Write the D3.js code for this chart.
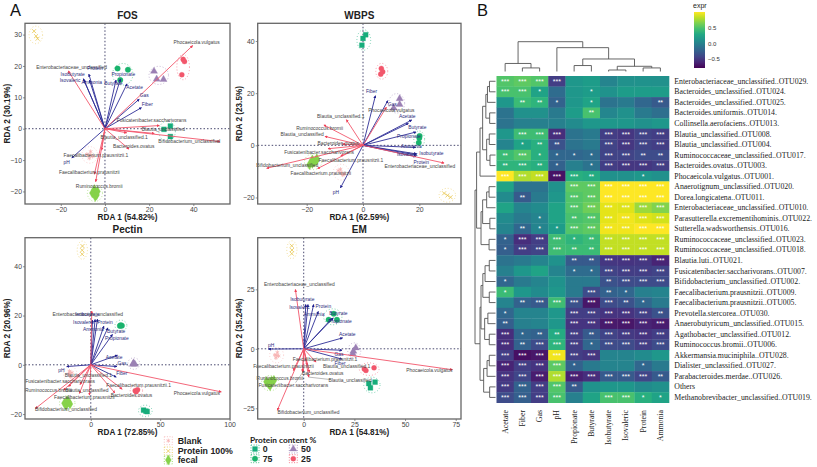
<!DOCTYPE html>
<html><head><meta charset="utf-8">
<script src="https://cdn.jsdelivr.net/npm/d3@7"></script>
<style>html,body{margin:0;padding:0;background:#fff}svg{display:block}</style>
</head><body><svg id="c" width="817" height="467"></svg>
<script>
// ---------- RDA data: [name, x, y, labelX, labelY] in axis units
const fosEnv=[["Isobutyrate",-9.8,15.9,-14.6,17.5],["Isovaleric",-9.5,15.5,-15.8,15.5],["Ammonia",-7,15.5,-6,14.9],["Protein",-7.3,17.4,-4.5,19.3],["Acetate",10,14.3,13.4,13.3],["Propionate",7,15.8,8.3,17.2],["Butyrate",5,15.5,3.8,14.4],["Gas",15.5,9.4,17.8,10.6],["Fiber",16.5,6.7,19.2,7.9],["pH",-15,-9.3,-17.3,-10.8]];
const fosSpecies=[["Phocaeicola.vulgatus",39.7,26.5,41.5,27.7],["Enterobacteriaceae_unclassified",-16.6,18.4,-15.1,19.7],["Fusicatenibacter.saccharivorans",22.3,-1.5,21.1,2.7],["Blautia_unclassified",24.6,1,26.4,-0.2],["Bifidobacterium_unclassified",52,-4.1,38.2,-4],["Blautia_unclassified.1",9.8,-1.3,8.7,-2.8],["Bacteroides.ovatus",10.9,-6.5,13,-5.7],["Faecalibacterium.prausnitzii.1",-1.5,-6.8,-4.1,-8.6],["Faecalibacterium.prausnitzii",-4.8,-14.5,-7.1,-14],["Ruminococcus.bromii",-4.2,-16.9,-2.6,-18.3]];
const fosPoints={blank:[[-6.8,-8.4],[-7.1,-9.4],[-6.5,-7.3],[-8.2,-8.2],[-5.6,-8.8]],p100:[[-32.1,31.1],[-31.2,29.5],[-30.5,28.7]],fecal:[[-4.5,-20.4],[-3.8,-21.1],[-4.8,-19.5],[-5.7,-20.5],[-3.4,-20],[-4.4,-21.6]],p0:[[29.6,0.85],[29.6,-2.5],[26.7,-0.2]],p75:[[5.7,19.2],[10.4,18.8],[6.9,15.5]],p50:[[22.2,18.3],[26.5,15.7],[23.4,15.8]],p25:[[35.4,22.1],[36,21.4],[34.8,17.2]]};

const wbpsEnv=[["Fiber",4.4,19,3,20.7],["Gas",8.8,17.1,10.4,15.8],["Acetate",17.3,9.7,15.7,11.1],["Butyrate",16.1,8.4,19.3,7],["Propionate",18.8,5.1,16.3,3.6],["Ammonia",18.7,-0.8,17.2,-0.5],["Isobutyrate",19,-3.3,24.3,-2.9],["Isovaleric",19,-3.7,15.7,-3.3],["Protein",18.8,-4.3,20.7,-6.4],["pH",-8,-16.3,-9.6,-17.9]];
const wbpsSpecies=[["Phocaeicola.vulgatus",8.3,14.6,10.1,13.3],["Enterobacteriaceae_unclassified",28.8,-6.8,20.2,-8],["Blautia_unclassified.1",-5.9,9.8,-7.9,11.2],["Ruminococcus.bromii",-13.9,7.8,-15.4,6.4],["Blautia_unclassified",-13.5,3.4,-21.6,4.1],["Bacteroides.ovatus",-7.3,0.5,-8.8,0.6],["Fusicatenibacter.saccharivorans",-12.4,-1.3,-15.6,-2.8],["Faecalibacterium.prausnitzii.1",-7.9,-4.1,-4.3,-5.7],["Bifidobacterium_unclassified",-34.2,-8.8,-26.9,-7.7],["Faecalibacterium.prausnitzii",-16.1,-8.9,-15,-10.6]];
const wbpsPoints={blank:[[-8.8,-9.7],[-7.7,-10.5],[-6.7,-11],[-8,-9.2],[-7.2,-11.4]],p100:[[28.8,-18.4],[30,-19.2],[31.1,-19.9]],fecal:[[-16.6,-5.9],[-18,-6.9],[-17.3,-6.4],[-19,-7.4],[-16.4,-5.2],[-18,-5.6]],p0:[[-0.4,38.4],[0,41],[0.95,42.4]],p75:[[20.1,3.6],[20,2.8],[19.8,1]],p50:[[13,17.9],[13,15.7],[10.9,14.3]],p25:[[6.5,29.5],[7,28.2],[6.3,27.3]]};

const pectinEnv=[["Isovaleric",1.2,18.1,-5.3,17.3],["Isobutyrate",3.1,18.4,-2.4,20.4],["Protein",4.8,18.5,10.3,17.4],["Ammonia",9.4,15.7,1.9,14.5],["Butyrate",12.3,15,18.3,13.6],["Propionate",15.6,12.3,18.8,10.7],["Acetate",19.2,3.9,16.8,3.1],["Gas",18.8,-0.7,22.4,0.7],["Fiber",18.3,-5,22.4,-3.6],["pH",-17.3,-0.7,-21.2,-2.3]];
const pectinSpecies=[["Enterobacteriaceae_unclassified",0.7,21.8,-2.2,20.4],["Phocaeicola.vulgatus",94,-11,76.4,-11.4],["Bifidobacterium_unclassified",-40,-17.8,-17.8,-18.1],["Bacteroides.ovatus",17.3,-11.4,29.3,-12.2],["Faecalibacterium.prausnitzii.1",22.6,-9.9,34.4,-8.5],["Faecalibacterium.prausnitzii",-1,-12.3,-4.6,-13.2],["Fusicatenibacter.saccharivorans",-16,-8.8,-22.1,-6.6],["Ruminococcus.bromii",-19.7,-10.3,-30.5,-10.3],["Blautia_unclassified",-8.2,-11.6,-2.9,-10.5],["Blautia_unclassified.1",-7.7,-8,-1.7,-4.1]];
const pectinPoints={blank:[[-15.4,-2.6],[-14.9,-3.5],[-14.4,-4.9],[-16,-3.8],[-13.6,-3.2]],p100:[[-6,48.2],[-6.2,46.5],[-6.2,44.9]],fecal:[[-17.3,-15.7],[-16.1,-15],[-17.8,-16.4],[-19,-15.6],[-15,-15.9],[-17,-14.6]],p0:[[38,-18.4],[39.7,-18.8],[40.6,-19]],p75:[[21.6,16.1],[22.4,15.9],[21,15.8]],p50:[[30.8,0.8],[31.7,0.3],[30.3,0.2]],p25:[[32,-10.5],[33.7,-10.1],[32.7,-10.9]]};

const emEnv=[["Isobutyrate",1,18.6,-0.7,20.9],["Isovaleric",2.1,18.6,-2.1,17.4],["Protein",4.9,18.6,9.7,17.9],["Ammonia",7.2,15.7,5.1,14.4],["Butyrate",13.8,12.7,17.1,15],["Propionate",14.6,13,17.9,11.5],["Acetate",19.2,4.6,21.5,6.2],["Gas",18.9,-0.6,17.4,-2.1],["Fiber",18.8,-4.3,17.9,-5.9],["pH",-17.4,-0.1,-16.1,1.3]];
const emSpecies=[["Enterobacteriaceae_unclassified",-4.1,24.9,-2.1,27],["Phocaeicola.vulgatus",73.4,-8.8,62,-9],["Bifidobacterium_unclassified",-13,-25.8,2.3,-26.5],["Faecalibacterium.prausnitzii.1",6.1,-5.6,10.5,-4.6],["Faecalibacterium.prausnitzii",-5.1,-9.1,-10,-7.4],["Blautia_unclassified.1",1.8,-6.9,21.2,-7.4],["Bacteroides.ovatus",2.8,-9.8,9.4,-10.4],["Blautia_unclassified",2.5,-11.9,22.9,-13.2],["Ruminococcus.bromii",-0.5,-9.9,-11.7,-12.3],["Fusicatenibacter.saccharivorans",-0.5,-9.6,-5.1,-15.3]];
const emPoints={blank:[[-13.3,-2.7],[-13.7,-3.8],[-13,-1.5],[-14.3,-2.6],[-12.4,-3]],p100:[[-5.9,43.3],[-5.8,41.5],[-5.9,40]],fecal:[[-16.6,-13.9],[-15.8,-13.6],[-17.4,-14.6],[-18.4,-13.8],[-14.7,-13.3],[-16.6,-15.5]],p0:[[32.1,-14.6],[32.9,-16.4],[35.2,-14]],p75:[[12.3,12.2],[14.8,14.7],[16.4,12.2]],p50:[[25.7,0.4],[24.5,-1],[24.2,-2]],p25:[[29.9,-8.5],[34.7,-8],[30.7,-9.1]]};
const emLeaders=[[2.5,-11.9,13,-12.9],[-0.5,-9.9,-4,-14.2]];

// ---------- Heatmap data
const heatColumns=["Acetate","Fiber","Gas","pH","Propionate","Butyrate","Isobutyrate","Isovaleric","Protein","Ammonia"];
const heatRows=["Enterobacteriaceae_unclassified..OTU029.","Bacteroides_unclassified..OTU024.","Bacteroides_unclassified..OTU025.","Bacteroides.uniformis..OTU014.","Collinsella.aerofaciens..OTU013.","Blautia_unclassified..OTU008.","Blautia_unclassified..OTU004.","Ruminococcaceae_unclassified..OTU017.","Bacteroides.ovatus..OTU003.","Phocaeicola.vulgatus..OTU001.","Anaerotignum_unclassified..OTU020.","Dorea.longicatena..OTU011.","Enterobacteriaceae_unclassified..OTU010.","Parasutterella.excrementihominis..OTU022.","Sutterella.wadsworthensis..OTU016.","Ruminococcaceae_unclassified..OTU023.","Ruminococcaceae_unclassified..OTU018.","Blautia.luti..OTU021.","Fusicatenibacter.saccharivorans..OTU007.","Bifidobacterium_unclassified..OTU002.","Faecalibacterium.prausnitzii..OTU009.","Faecalibacterium.prausnitzii..OTU005.","Prevotella.stercorea..OTU030.","Anaerobutyricum_unclassified..OTU015.","Agathobacter_unclassified..OTU012.","Ruminococcus.bromii..OTU006.","Akkermansia.muciniphila..OTU028.","Dialister_unclassified..OTU027.","Parabacteroides.merdae..OTU026.","Others","Methanobrevibacter_unclassified..OTU019."];
// position along the viridis ramp for each cell (colour-bar fraction)
const heatValues=[
[.70,.72,.70,.15,.50,.52,.42,.47,.48,.47],
[.68,.68,.55,.32,.50,.52,.48,.52,.52,.52],
[.50,.65,.62,.28,.50,.55,.35,.38,.30,.25],
[.35,.47,.47,.38,.52,.68,.43,.47,.38,.33],
[.35,.40,.40,.40,.45,.50,.50,.50,.47,.50],
[.50,.66,.66,.10,.35,.38,.15,.13,.17,.15],
[.42,.55,.60,.22,.35,.38,.17,.13,.17,.15],
[.65,.70,.60,.30,.30,.32,.17,.17,.20,.20],
[.62,.62,.60,.28,.40,.35,.15,.13,.13,.15],
[.98,.85,.88,.02,.60,.58,.47,.47,.50,.47],
[.55,.35,.35,.48,.72,.72,.97,.98,.98,.98],
[.45,.25,.38,.50,.70,.72,.97,.97,.98,.98],
[.55,.42,.45,.55,.70,.75,.93,.92,.82,.78],
[.45,.38,.42,.55,.68,.70,.93,.95,.92,.90],
[.42,.30,.42,.52,.70,.72,.95,.95,.97,.97],
[.28,.10,.15,.66,.62,.65,.88,.88,.88,.88],
[.27,.15,.17,.66,.65,.65,.88,.88,.88,.88],
[.35,.38,.42,.48,.25,.25,.13,.12,.13,.07],
[.40,.50,.55,.42,.32,.32,.17,.15,.15,.17],
[.30,.38,.42,.48,.38,.38,.22,.20,.20,.20],
[.65,.50,.45,.50,.38,.20,.28,.30,.40,.42],
[.42,.28,.25,.66,.22,.03,.20,.22,.30,.38],
[.30,.42,.42,.50,.15,.15,.12,.12,.16,.22],
[.27,.40,.42,.50,.12,.12,.04,.03,.07,.05],
[.10,.30,.28,.58,.15,.25,.17,.14,.12,.15],
[.10,.28,.20,.62,.15,.30,.20,.20,.15,.20],
[.15,.01,.03,.95,.15,.13,.42,.42,.45,.50],
[.07,.15,.12,.72,.28,.38,.42,.42,.30,.38],
[.12,.18,.05,.85,.06,.10,.25,.25,.18,.25],
[.14,.28,.15,.70,.25,.48,.50,.50,.45,.47],
[.20,.27,.15,.68,.40,.55,.68,.68,.60,.55]];
const heatStars=[
[3,3,3,3,0,0,0,0,0,0],[3,3,1,0,0,1,0,0,0,0],[0,2,2,1,0,1,0,0,0,2],[0,0,0,0,0,2,0,0,0,0],[0,0,0,0,0,0,0,0,0,0],
[0,3,3,3,0,0,3,3,3,3],[0,1,2,2,0,0,3,3,3,3],[2,3,1,1,1,1,3,3,2,2],[2,3,2,1,0,1,3,3,3,3],[3,3,3,3,3,2,0,0,1,0],
[0,0,0,0,3,3,3,3,3,3],[0,2,0,0,3,3,3,3,3,3],[0,0,0,0,3,3,3,3,3,3],[0,0,1,0,2,3,3,3,3,3],[0,2,1,1,3,3,3,3,3,3],
[1,3,3,3,1,2,3,3,3,3],[1,3,3,3,2,2,3,3,3,3],[0,0,0,0,2,2,3,3,3,3],[0,0,0,0,1,1,3,3,3,3],[1,0,0,0,0,0,2,3,3,3],
[1,0,0,0,0,3,2,1,0,0],[0,2,3,3,3,3,3,2,1,0],[1,0,0,0,3,3,3,3,3,2],[2,0,0,0,3,3,3,3,3,3],[3,1,2,2,3,2,3,3,3,3],
[3,2,3,3,3,1,3,3,3,3],[3,3,3,3,3,3,0,0,0,0],[3,3,3,3,1,0,0,0,1,0],[3,3,3,3,3,3,3,3,3,2],[3,3,3,3,2,0,0,0,0,0],[3,3,3,3,0,0,3,3,1,1]];
// Dendrograms: {h: merge height, c: children} ; leaves are index numbers
const colTree={h:10,c:[{h:2.7,c:[0,{h:1.2,c:[1,2]}]},{h:8,c:[3,{h:4.2,c:[{h:2,c:[4,5]},{h:1.75,c:[{h:.5,c:[6,7]},{h:1.2,c:[8,9]}]}]}]}]};
const rowTree={h:10.2,c:[
 {h:9.4,c:[
  {h:7.7,c:[
   {h:6.4,c:[
    {h:4.8,c:[{h:4,c:[{h:3,c:[0,1]},2]},{h:2.9,c:[3,4]}]},
    {h:4.4,c:[{h:3.1,c:[5,6]},{h:2.75,c:[7,8]}]}]},
   9]},
  {h:7.2,c:[
   {h:6.4,c:[{h:4.4,c:[{h:3.2,c:[10,11]},12]},{h:2.8,c:[13,14]}]},
   {h:3.2,c:[15,16]}]}]},
 {h:7.7,c:[
  {h:7.2,c:[
   {h:6.3,c:[{h:5.2,c:[{h:3.1,c:[17,18]},19]},{h:3.1,c:[20,21]}]},
   {h:5.4,c:[{h:3.8,c:[22,23]},{h:3.1,c:[24,25]}]}]},
  {h:5.9,c:[{h:4.2,c:[{h:3.1,c:[26,27]},28]},{h:2.9,c:[29,30]}]}]}]};
const exprTicks=[-0.5,0,0.5];

// ---------- Styles
const groups={
 blank:{t:"Blank",col:"#f8b0b0",sym:d3.symbolAsterisk||d3.symbolCross,s:12},
 p100:{t:"Protein 100%",col:"#e9c64f",sym:d3.symbolTimes,s:12},
 fecal:{t:"fecal",col:"#86d24a",sym:d3.symbolDiamond,s:30},
 p0:{t:"0",col:"#16ad7b",sym:d3.symbolSquare,s:24},
 p75:{t:"75",col:"#19b36c",sym:d3.symbolCircle,s:24},
 p50:{t:"50",col:"#9b80b4",sym:d3.symbolTriangle,s:22},
 p25:{t:"25",col:"#f2566b",sym:d3.symbolCircle,s:20}};
const sans="'Liberation Sans',Arial,sans-serif", serif="'Liberation Serif','Times New Roman',serif";
const svg=d3.select("#c");
const defs=svg.append("defs");
[["headR","#ee3f55"],["headB","#1f1f8f"]].forEach(([id,c])=>{
 defs.append("marker").attr("id",id).attr("viewBox","0 0 6 6").attr("refX",5).attr("refY",3)
  .attr("markerWidth",3).attr("markerHeight",3).attr("markerUnits","userSpaceOnUse").attr("orient","auto")
  .append("path").attr("d","M0,0L6,3L0,6Z").attr("fill",c);});

function panel(title,xl,yl,box,xDom,yDom,xTicks,yTicks,env,species,points,leaders){
 const x=d3.scaleLinear().domain(xDom).range([box.l,box.r]);
 const y=d3.scaleLinear().domain(yDom).range([box.b,box.t]);
 const g=svg.append("g");
 const ax=g.append("g").attr("transform",`translate(0,${box.b})`).call(d3.axisBottom(x).tickValues(xTicks).tickSize(2).tickPadding(1.5));
 const ay=g.append("g").attr("transform",`translate(${box.l},0)`).call(d3.axisLeft(y).tickValues(yTicks).tickSize(2).tickPadding(1));
 [ax,ay].forEach(a=>{a.select(".domain").remove();a.selectAll("text").attr("font-family",sans).attr("font-size",6.9).attr("fill","#444");a.selectAll("line").attr("stroke","#444").attr("stroke-width",.6);});
 g.append("line").attr("x1",box.l).attr("x2",box.r).attr("y1",y(0)).attr("y2",y(0)).attr("stroke","#33335f").attr("stroke-width",.9).attr("stroke-dasharray","1.5 2");
 g.append("line").attr("x1",x(0)).attr("x2",x(0)).attr("y1",box.t).attr("y2",box.b).attr("stroke","#33335f").attr("stroke-width",.9).attr("stroke-dasharray","1.5 2");
 // point groups with dotted halo
 Object.entries(points).forEach(([k,pts])=>{
  const st=groups[k];
  const ex=d3.extent(pts,p=>x(p[0])),ey=d3.extent(pts,p=>y(p[1]));
  g.append("ellipse").attr("cx",(ex[0]+ex[1])/2).attr("cy",(ey[0]+ey[1])/2).attr("rx",(ex[1]-ex[0])/2+5).attr("ry",(ey[1]-ey[0])/2+5)
   .attr("fill","none").attr("stroke",st.col).attr("stroke-width",.8).attr("stroke-dasharray","1 2").attr("opacity",.7);
  g.selectAll(null).data(pts).join("path").attr("transform",p=>`translate(${x(p[0])},${y(p[1])})`)
   .attr("d",d3.symbol().type(st.sym).size(st.s))
   .attr("fill",(k=="blank"||k=="p100")?"none":st.col).attr("stroke",st.col).attr("stroke-width",(k=="blank"||k=="p100")?.8:.3);
 });
 const arrows=(data,col,head)=>g.selectAll(null).data(data).join("line")
  .attr("x1",x(0)).attr("y1",y(0)).attr("x2",d=>x(d[1])).attr("y2",d=>y(d[2]))
  .attr("stroke",col).attr("stroke-width",.9).attr("marker-end",`url(#${head})`);
 arrows(env,"#2e2e96","headB");arrows(species,"#f2566b","headR");
 if(leaders) g.selectAll(null).data(leaders).join("line").attr("x1",d=>x(d[0])).attr("y1",d=>y(d[1])).attr("x2",d=>x(d[2])).attr("y2",d=>y(d[3])).attr("stroke","#777").attr("stroke-width",.5);
 const labels=(data,col)=>g.selectAll(null).data(data).join("text")
  .attr("x",d=>x(d[3])).attr("y",d=>y(d[4])).attr("dy","0.35em").attr("text-anchor","middle")
  .attr("font-family",sans).attr("font-size",4.9).attr("fill",col).text(d=>d[0]);
 labels(species,"#444");labels(env,"#2a2a7c");
 g.append("rect").attr("x",box.l).attr("y",box.t).attr("width",box.r-box.l).attr("height",box.b-box.t).attr("fill","none").attr("stroke","#666").attr("stroke-width",1.3);
 g.append("text").attr("x",(box.l+box.r)/2).attr("y",box.t-4.5).attr("text-anchor","middle").attr("font-family",sans).attr("font-weight","bold").attr("font-size",10).attr("fill","#222").text(title);
 g.append("text").attr("x",(box.l+box.r)/2).attr("y",box.b+16).attr("text-anchor","middle").attr("font-family",sans).attr("font-weight","bold").attr("font-size",8.2).attr("fill","#222").text(xl);
 g.append("text").attr("transform",`translate(${box.l-15.5},${(box.t+box.b)/2}) rotate(-90)`).attr("text-anchor","middle").attr("font-family",sans).attr("font-weight","bold").attr("font-size",8.2).attr("fill","#222").text(yl);
}
// panel boxes and axis scales derived from tick positions
panel("FOS","RDA 1 (54.82%)","RDA 2 (30.19%)",{l:25,r:230,t:23.3,b:204},[-36.2,56.6],[-24,33.6],[-20,0,20,40],[-20,-10,0,10,20,30],fosEnv,fosSpecies,fosPoints);
panel("WBPS","RDA 1 (62.59%)","RDA 2 (23.5%)",{l:257.7,r:461,t:23.3,b:204},[-37.4,34.8],[-22.5,46.8],[-20,0,20],[-20,0,20,40],wbpsEnv,wbpsSpecies,wbpsPoints);
panel("Pectin","RDA 1 (72.85%)","RDA 2 (20.96%)",{l:25,r:230,t:237.7,b:419},[-47.4,100.3],[-22,51.6],[0,50,100],[-20,0,20,40],pectinEnv,pectinSpecies,pectinPoints);
panel("EM","RDA 1 (54.81%)","RDA 2 (35.24%)",{l:257.7,r:461,t:237.7,b:419},[-22.7,77.6],[-29.5,46.7],[0,25,50,75],[-25,0,25],emEnv,emSpecies,emPoints,emLeaders);

// panel letters
[["A",10,15.5],["B",477,15.5]].forEach(([t,x,y])=>svg.append("text").attr("x",x).attr("y",y).attr("font-family",sans).attr("font-size",16.5).attr("fill","#111").text(t));

// legend
function legendKey(k,cx,cy){
 const st=groups[k];
 svg.append("rect").attr("x",cx-4).attr("y",cy-4).attr("width",8).attr("height",8).attr("fill","none").attr("stroke",st.col).attr("stroke-width",.8).attr("stroke-dasharray","1 1.6");
 svg.append("path").attr("transform",`translate(${cx},${cy})`).attr("d",d3.symbol().type(st.sym).size(st.s))
  .attr("fill",(k=="blank"||k=="p100")?"none":st.col).attr("stroke",st.col).attr("stroke-width",(k=="blank"||k=="p100")?.8:.3);
}
const legendText=(t,x,y)=>svg.append("text").attr("x",x).attr("y",y).attr("dy","0.35em").attr("font-family",sans).attr("font-weight","bold").attr("font-size",8.8).attr("fill","#222").text(t);
[["blank",440.7],["p100",451],["fecal",460]].forEach(([k,y])=>{legendKey(k,168.3,y);legendText(groups[k].t,177.7,y);});
svg.append("text").attr("x",250).attr("y",440.3).attr("dy","0.35em").attr("font-family","Lato,"+sans).attr("font-weight","bold").attr("font-size",8.3).attr("fill","#222").text("Protein content %");
[["p0",255,449],["p75",255,458.7],["p50",293.3,449],["p25",293.3,458.7]].forEach(([k,x,y])=>{legendKey(k,x,y);legendText(groups[k].t,x+7.7,y);});

// ---------- heatmap
const hx=d3.scaleBand().domain(d3.range(heatColumns.length)).range([496.5,669]);
const hy=d3.scaleBand().domain(d3.range(heatRows.length)).range([76,402.7]);
const color=d3.scaleSequential(d3.interpolateViridis).domain([-0.03,0.97]);
const cells=heatValues.flatMap((r,i)=>r.map((v,j)=>({i,j,v,s:heatStars[i][j]})));
svg.append("g").selectAll("rect").data(cells).join("rect").attr("x",d=>hx(d.j)).attr("y",d=>hy(d.i)).attr("width",hx.bandwidth()+.3).attr("height",hy.bandwidth()+.3).attr("fill",d=>color(d.v));
svg.append("g").selectAll("text").data(cells.filter(d=>d.s>0)).join("text").attr("x",d=>hx(d.j)+hx.bandwidth()/2).attr("y",d=>hy(d.i)+hy.bandwidth()/2+2.6)
 .attr("text-anchor","middle").attr("font-family",sans).attr("font-size",7).attr("fill","#fff").text(d=>"*".repeat(d.s));
svg.append("g").selectAll("text").data(heatRows).join("text").attr("x",674.3).attr("y",(d,i)=>hy(i)+hy.bandwidth()/2).attr("dy","0.33em")
 .attr("font-family",serif).attr("font-size",7.8).attr("fill","#222").text(d=>d);
svg.append("g").selectAll("text").data(heatColumns).join("text").attr("transform",(d,j)=>`translate(${hx(j)+hx.bandwidth()/2},410) rotate(-90)`).attr("dy","0.33em").attr("text-anchor","end")
 .attr("font-family",serif).attr("font-size",7.8).attr("fill","#222").text(d=>d);

// dendrograms
function dendro(tree,leafPos,hPos,horizontal){
 const root=d3.hierarchy(tree,d=>typeof d==="number"?null:d.c);
 root.eachAfter(n=>{
  n.pos=n.children?d3.mean([n.children[0].pos,n.children[n.children.length-1].pos]):leafPos(n.data);
  n.hp=hPos(n.children?n.data.h:0);
 });
 const P=svg.append("g");
 root.each(n=>{ if(!n.children)return;
  const a=n.children[0],b=n.children[1];
  const d=horizontal?`M${a.hp},${a.pos}H${n.hp}V${b.pos}H${b.hp}`:`M${a.pos},${a.hp}V${n.hp}H${b.pos}V${b.hp}`;
  P.append("path").attr("d",d).attr("fill","none").attr("stroke","#555").attr("stroke-width",.9);
 });
}
dendro(colTree,j=>hx(j)+hx.bandwidth()/2,d3.scaleLinear().domain([0,10]).range([71.5,41.7]),false);
dendro(rowTree,i=>hy(i)+hy.bandwidth()/2,d3.scaleLinear().domain([0,10.2]).range([495.5,475]),true);

// colour bar
const cbDom=[-0.8,1], cbY=d3.scaleLinear().domain(cbDom).range([68,12]);
const grad=defs.append("linearGradient").attr("id","cb").attr("x1",0).attr("x2",0).attr("y1",1).attr("y2",0);
d3.range(0,1.01,.1).forEach(t=>grad.append("stop").attr("offset",t).attr("stop-color",d3.interpolateViridis(t)));
svg.append("rect").attr("x",694).attr("y",12).attr("width",11).attr("height",56).attr("fill","url(#cb)");
const cbAx=svg.append("g").attr("transform","translate(705,0)").call(d3.axisRight(cbY).tickValues(exprTicks).tickSize(0).tickPadding(3).tickFormat(d3.format(".1f")));
cbAx.select(".domain").remove();cbAx.selectAll("text").attr("font-family",sans).attr("font-size",6).attr("fill","#333");
svg.append("text").attr("x",693).attr("y",7.5).attr("font-family",sans).attr("font-size",7).attr("fill","#222").text("expr");
</script></body></html>
